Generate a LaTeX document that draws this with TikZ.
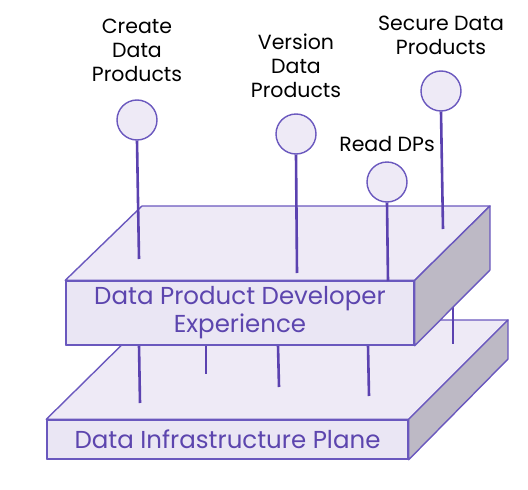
\documentclass[tikz,border=0pt]{standalone}
\usepackage{fontspec}
\setmainfont{Poppins}
\definecolor{edgec}{HTML}{6A58BE}
\definecolor{stemc}{HTML}{5B42B0}
\definecolor{topf}{HTML}{EEEAF6}
\definecolor{frontf}{HTML}{EAE6F4}
\definecolor{sidef}{HTML}{BDB9C5}
\definecolor{boxtext}{HTML}{5C45AE}
\begin{document}
\begin{tikzpicture}[x=1pt,y=-1pt,
  face/.style={draw=edgec, line width=1.4pt, line join=round},
  frontbox/.style={face, fill=frontf, inner sep=0pt, text=boxtext, align=center,
    font=\fontsize{24.5}{28}\selectfont},
  pin/.style={circle, draw=edgec, fill=topf, line width=1.4pt, minimum size=40pt, inner sep=0pt},
  stemline/.style={draw=stemc, line width=2.6pt},
  lbl/.style={align=center, text=black, font=\fontsize{20.5}{24}\selectfont, inner sep=0pt}]
\useasboundingbox (0,0) rectangle (528,490);
% ---- lower box
\coordinate (LE) at (147,320);
\coordinate (LF) at (508,320);
\coordinate (LG) at (508,359);
\node[frontbox, minimum width=361pt, minimum height=39pt] (infra) at (227.5,439.5) {Data Infrastructure Plane};
\filldraw[face, fill=topf] (infra.north west) -- (LE) -- (LF) -- (infra.north east) -- cycle;
\filldraw[face, fill=sidef] (infra.north east) -- (LF) -- (LG) -- (infra.south east) -- cycle;
\node[frontbox, minimum width=361pt, minimum height=39pt] at (infra) {Data Infrastructure Plane};
% ---- lower stems
\coordinate (s1a) at (139,345); \coordinate (s1b) at (140,403);
\coordinate (s2a) at (206,345); \coordinate (s2b) at (206,374);
\coordinate (s3a) at (278,345); \coordinate (s3b) at (279,387);
\coordinate (s4a) at (368,345); \coordinate (s4b) at (369,396);
\coordinate (s5a) at (453,300); \coordinate (s5b) at (453,344);
\draw[stemline] (s1a) -- (s1b);
\draw[stemline] (s2a) -- (s2b);
\draw[stemline] (s3a) -- (s3b);
\draw[stemline] (s4a) -- (s4b);
\draw[stemline] (s5a) -- (s5b);
% ---- upper box
\coordinate (UE) at (142,206);
\coordinate (UF) at (490,206);
\coordinate (UG) at (490,270);
\node[frontbox, minimum width=348pt, minimum height=64pt] (dev) at (240,313) {Data Product Developer\\Experience};
\filldraw[face, fill=topf] (dev.north west) -- (UE) -- (UF) -- (dev.north east) -- cycle;
\filldraw[face, fill=sidef] (dev.north east) -- (UF) -- (UG) -- (dev.south east) -- cycle;
\node[frontbox, minimum width=348pt, minimum height=64pt] at (dev) {Data Product Developer\\Experience};
% ---- pins
\node[pin] (p1) at (137,120) {};
\node[pin] (p2) at (296,134) {};
\node[pin] (p3) at (387,182) {};
\node[pin] (p4) at (441,91) {};
\coordinate (e1) at (139,259);
\coordinate (e2) at (297,273);
\coordinate (e3) at (388,281);
\coordinate (e4) at (443,229);
\draw[stemline] (p1.south) -- (e1);
\draw[stemline] (p2.south) -- (e2);
\draw[stemline] (p3.south) -- (e3);
\draw[stemline] (p4.south) -- (e4);
% ---- labels
\node[lbl] (l1) at (137,50) {Create\\Data\\Products};
\node[lbl] (l2) at (296,66) {Version\\Data\\Products};
\node[lbl] (l3) at (387,144) {Read DPs};
\node[lbl] (l4) at (441,35.5) {Secure Data\\Products};
\end{tikzpicture}
\end{document}
